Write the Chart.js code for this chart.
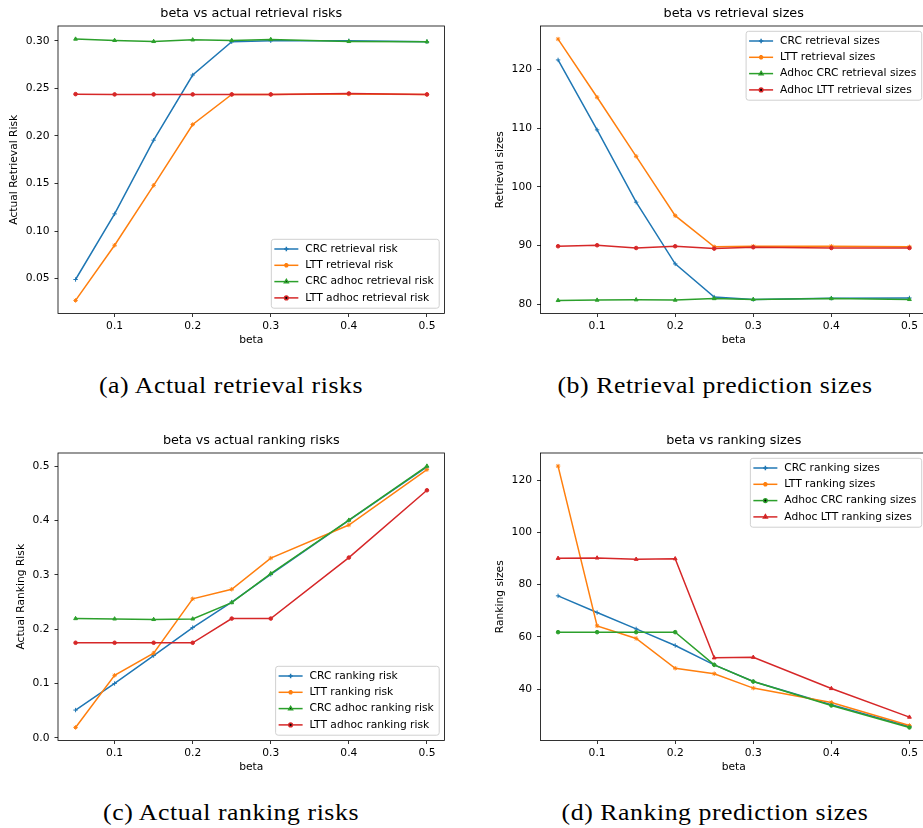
<!DOCTYPE html>
<html>
<head>
<meta charset="utf-8">
<script src="https://cdn.jsdelivr.net/npm/chart.js@4.4.1/dist/chart.umd.min.js"></script>
<style>
  html, body { margin: 0; padding: 0; background: #fff; }
  body { width: 923px; height: 828px; position: relative; overflow: hidden; }
  canvas { position: absolute; }
  .caption {
    position: absolute;
    font-family: 'Liberation Serif', serif;
    font-size: 23px;
    letter-spacing: 0.5px;
    color: #000;
    white-space: nowrap;
    transform: translate(-50%, -50%) scaleX(1.12);
  }
</style>
</head>
<body>
<canvas id="chartA" width="460" height="360" style="left:0px;top:0px"></canvas>
<canvas id="chartB" width="480" height="360" style="left:460px;top:0px"></canvas>
<canvas id="chartC" width="460" height="360" style="left:0px;top:427.3px"></canvas>
<canvas id="chartD" width="480" height="360" style="left:460px;top:427.3px"></canvas>

<div class="caption" style="left:231px;top:386px">(a) Actual retrieval risks</div>
<div class="caption" style="left:715px;top:386px">(b) Retrieval prediction sizes</div>
<div class="caption" style="left:231px;top:813px">(c) Actual ranking risks</div>
<div class="caption" style="left:715px;top:813px">(d) Ranking prediction sizes</div>

<script>
// valores de beta (eje x comun)
const betas = [0.05, 0.1, 0.15, 0.2, 0.25, 0.3, 0.4, 0.5];
const xTicks = [0.1, 0.2, 0.3, 0.4, 0.5];
const xTickLabels = ['0.1', '0.2', '0.3', '0.4', '0.5'];

// (a) riesgos de recuperacion
const crcRetrievalRisk = [0.049, 0.118, 0.1955, 0.264, 0.299, 0.300, 0.300, 0.299];
const lttRetrievalRisk = [0.027, 0.085, 0.148, 0.212, 0.2435, 0.2435, 0.244, 0.2435];
const crcAdhocRetrievalRisk = [0.3018, 0.3004, 0.2993, 0.301, 0.3003, 0.3014, 0.2993, 0.299];
const lttAdhocRetrievalRisk = [0.2439, 0.2436, 0.2436, 0.2436, 0.2436, 0.2436, 0.2446, 0.2436];
const yTicksA = [0.05, 0.10, 0.15, 0.20, 0.25, 0.30];
const yTickLabelsA = ['0.05', '0.10', '0.15', '0.20', '0.25', '0.30'];

// (b) tamanos de recuperacion
const crcRetrievalSizes = [121.6, 109.7, 97.4, 86.9, 81.25, 80.85, 81.07, 81.1];
const lttRetrievalSizes = [125.15, 115.25, 105.2, 95.1, 89.8, 89.9, 89.9, 89.8];
const adhocCrcRetrievalSizes = [80.68, 80.74, 80.8, 80.74, 81.0, 80.85, 81.0, 80.85];
const adhocLttRetrievalSizes = [89.9, 90.07, 89.6, 89.9, 89.5, 89.73, 89.6, 89.6];
const yTicksB = [80, 90, 100, 110, 120];
const yTickLabelsB = ['80', '90', '100', '110', '120'];

// (c) riesgos de ranking
const crcRankingRisk = [0.051, 0.100, 0.1515, 0.203, 0.250, 0.301, 0.4006, 0.499];
const lttRankingRisk = [0.019, 0.115, 0.156, 0.256, 0.2736, 0.331, 0.392, 0.494];
const crcAdhocRankingRisk = [0.2196, 0.219, 0.218, 0.219, 0.249, 0.3025, 0.401, 0.5006];
const lttAdhocRankingRisk = [0.175, 0.175, 0.175, 0.175, 0.2196, 0.2196, 0.332, 0.456];
const yTicksC = [0.0, 0.1, 0.2, 0.3, 0.4, 0.5];
const yTickLabelsC = ['0.0', '0.1', '0.2', '0.3', '0.4', '0.5'];

// (d) tamanos de ranking
const crcRankingSizes = [75.7, 69.3, 63.05, 56.7, 49.3, 42.9, 34.0, 25.7];
const lttRankingSizes = [125.35, 64.2, 59.4, 48.0, 45.9, 40.4, 34.9, 26.1];
const adhocCrcRankingSizes = [61.8, 61.8, 61.8, 61.8, 49.3, 42.9, 33.75, 25.35];
const adhocLttRankingSizes = [90.06, 90.2, 89.7, 89.9, 52.0, 52.2, 40.25, 29.3];
const yTicksD = [40, 60, 80, 100, 120];
const yTickLabelsD = ['40', '60', '80', '100', '120'];

const colors = ['#1f77b4', '#ff7f0e', '#2ca02c', '#d62728'];
const FONT = 'DejaVu Sans';
const BASE = 10.7;

Chart.defaults.font.family = FONT;
Chart.defaults.font.size = BASE;
Chart.defaults.color = '#000';

// margen tipo matplotlib (5%)
function padRange(values) {
    const lo = Math.min(...values), hi = Math.max(...values);
    const m = (hi - lo) * 0.05;
    return [lo - m, hi + m];
}

// marco de los ejes (cuatro lados)
const framePlugin = {
    id: 'frame',
    afterDatasetsDraw(chart) {
        const a = chart.chartArea, ctx = chart.ctx;
        ctx.save();
        ctx.strokeStyle = '#000';
        ctx.lineWidth = 0.8;
        ctx.strokeRect(a.left, a.top, a.right - a.left, a.bottom - a.top);
        ctx.restore();
    }
};

// leyenda dentro del area del grafico
const boxLegendPlugin = {
    id: 'boxLegend',
    afterDraw(chart, args, opts) {
        const ctx = chart.ctx, a = chart.chartArea;
        const sets = chart.data.datasets;
        ctx.save();
        ctx.font = BASE + 'px ' + FONT;
        let textW = 0;
        sets.forEach(ds => { textW = Math.max(textW, ctx.measureText(ds.label).width); });
        const rowH = 16.3, handle = 24, gap = 7;
        const w = 3 + handle + gap + textW + 5.5;
        const h = 9.7 + rowH * (sets.length - 1) + 10.3;
        const x = a.right - 5.3 - w;
        const y = opts.corner === 'lower' ? a.bottom - 5.3 - h : a.top + 5.3;
        ctx.beginPath();
        ctx.roundRect(x, y, w, h, 2.5);
        ctx.fillStyle = 'rgba(255,255,255,0.8)';
        ctx.fill();
        ctx.strokeStyle = '#d0d0d0';
        ctx.lineWidth = 1;
        ctx.stroke();
        sets.forEach((ds, i) => {
            const cy = y + 9.7 + i * rowH;
            ctx.strokeStyle = ds.borderColor;
            ctx.lineWidth = 1.5;
            ctx.beginPath();
            ctx.moveTo(x + 3, cy);
            ctx.lineTo(x + 3 + handle, cy);
            ctx.stroke();
            Chart.helpers.drawPoint(ctx, {
                pointStyle: ds.pointStyle, radius: ds.pointRadius, borderWidth: 1
            }, x + 3 + handle / 2, cy);
            ctx.fillStyle = '#000';
            ctx.textBaseline = 'middle';
            ctx.textAlign = 'left';
            ctx.fillText(ds.label, x + 3 + handle + gap, cy);
        });
        ctx.restore();
    }
};

function makeChart(id, cfg) {
    const all = [].concat(...cfg.series.map(s => s.data));
    const [yMin, yMax] = padRange(all);
    const [xMin, xMax] = padRange(betas);
    const datasets = cfg.series.map((s, i) => ({
        label: s.label,
        data: betas.map((b, j) => ({x: b, y: s.data[j]})),
        borderColor: colors[i],
        backgroundColor: colors[i],
        pointBackgroundColor: colors[i],
        pointBorderColor: colors[i],
        borderWidth: 1.5,
        pointStyle: s.marker,
        pointRadius: s.marker === 'circle' ? 1.8 : 2.2,
        pointBorderWidth: 1,
        tension: 0,
        order: cfg.series.length - i
    }));
    return new Chart(document.getElementById(id), {
        type: 'line',
        data: {datasets: datasets},
        options: {
            responsive: false,
            animation: false,
            devicePixelRatio: 1,
            layout: {padding: {left: 0, right: cfg.padRight, top: 0, bottom: 0}},
            plugins: {
                legend: {display: false},
                tooltip: {enabled: false},
                title: {
                    display: true,
                    text: cfg.title,
                    fullSize: false,
                    font: {size: 12.8, weight: 'normal'},
                    color: '#000',
                    padding: {top: 6.3, bottom: 4.34}
                },
                boxLegend: {corner: cfg.corner}
            },
            scales: {
                x: {
                    type: 'linear',
                    min: xMin,
                    max: xMax,
                    afterBuildTicks: s => { s.ticks = xTicks.map(v => ({value: v})); },
                    afterFit: s => { s.height = 46.5; },
                    ticks: {
                        autoSkip: false, maxRotation: 0, padding: 3,
                        callback: (v, i) => xTickLabels[i]
                    },
                    grid: {drawOnChartArea: false, drawTicks: true, tickLength: 3.5, tickColor: '#000', tickWidth: 0.8},
                    border: {display: false},
                    title: {display: true, text: 'beta', padding: {top: 0, bottom: 13.1}}
                },
                y: {
                    type: 'linear',
                    min: yMin,
                    max: yMax,
                    afterBuildTicks: s => { s.ticks = cfg.yTicks.map(v => ({value: v})); },
                    afterFit: s => { s.width = cfg.yAxisWidth; },
                    ticks: {
                        autoSkip: false, padding: 5,
                        callback: (v, i) => cfg.yTickLabels[i]
                    },
                    grid: {drawOnChartArea: false, drawTicks: true, tickLength: 3.5, tickColor: '#000', tickWidth: 0.8},
                    border: {display: false},
                    title: {display: true, text: cfg.yTitle, padding: {top: cfg.yTitlePad, bottom: 0}}
                }
            }
        },
        plugins: [framePlugin, boxLegendPlugin]
    });
}

makeChart('chartA', {
    title: 'beta vs actual retrieval risks',
    yTitle: 'Actual Retrieval Risk',
    yTicks: yTicksA, yTickLabels: yTickLabelsA,
    yAxisWidth: 58, yTitlePad: 7.9, padRight: 15.5, corner: 'lower',
    series: [
        {label: 'CRC retrieval risk', data: crcRetrievalRisk, marker: 'cross'},
        {label: 'LTT retrieval risk', data: lttRetrievalRisk, marker: 'star'},
        {label: 'CRC adhoc retrieval risk', data: crcAdhocRetrievalRisk, marker: 'triangle'},
        {label: 'LTT adhoc retrieval risk', data: lttAdhocRetrievalRisk, marker: 'circle'}
    ]
});

makeChart('chartB', {
    title: 'beta vs retrieval sizes',
    yTitle: 'Retrieval sizes',
    yTicks: yTicksB, yTickLabels: yTickLabelsB,
    yAxisWidth: 80.5, yTitlePad: 34.3, padRight: 13, corner: 'upper',
    series: [
        {label: 'CRC retrieval sizes', data: crcRetrievalSizes, marker: 'cross'},
        {label: 'LTT retrieval sizes', data: lttRetrievalSizes, marker: 'star'},
        {label: 'Adhoc CRC retrieval sizes', data: adhocCrcRetrievalSizes, marker: 'triangle'},
        {label: 'Adhoc LTT retrieval sizes', data: adhocLttRetrievalSizes, marker: 'circle'}
    ]
});

makeChart('chartC', {
    title: 'beta vs actual ranking risks',
    yTitle: 'Actual Ranking Risk',
    yTicks: yTicksC, yTickLabels: yTickLabelsC,
    yAxisWidth: 58, yTitlePad: 15.3, padRight: 15.5, corner: 'lower',
    series: [
        {label: 'CRC ranking risk', data: crcRankingRisk, marker: 'cross'},
        {label: 'LTT ranking risk', data: lttRankingRisk, marker: 'star'},
        {label: 'CRC adhoc ranking risk', data: crcAdhocRankingRisk, marker: 'triangle'},
        {label: 'LTT adhoc ranking risk', data: lttAdhocRankingRisk, marker: 'circle'}
    ]
});

makeChart('chartD', {
    title: 'beta vs ranking sizes',
    yTitle: 'Ranking sizes',
    yTicks: yTicksD, yTickLabels: yTickLabelsD,
    yAxisWidth: 80.5, yTitlePad: 34.3, padRight: 13, corner: 'upper',
    series: [
        {label: 'CRC ranking sizes', data: crcRankingSizes, marker: 'cross'},
        {label: 'LTT ranking sizes', data: lttRankingSizes, marker: 'star'},
        {label: 'Adhoc CRC ranking sizes', data: adhocCrcRankingSizes, marker: 'circle'},
        {label: 'Adhoc LTT ranking sizes', data: adhocLttRankingSizes, marker: 'triangle'}
    ]
});
</script>
</body>
</html>
